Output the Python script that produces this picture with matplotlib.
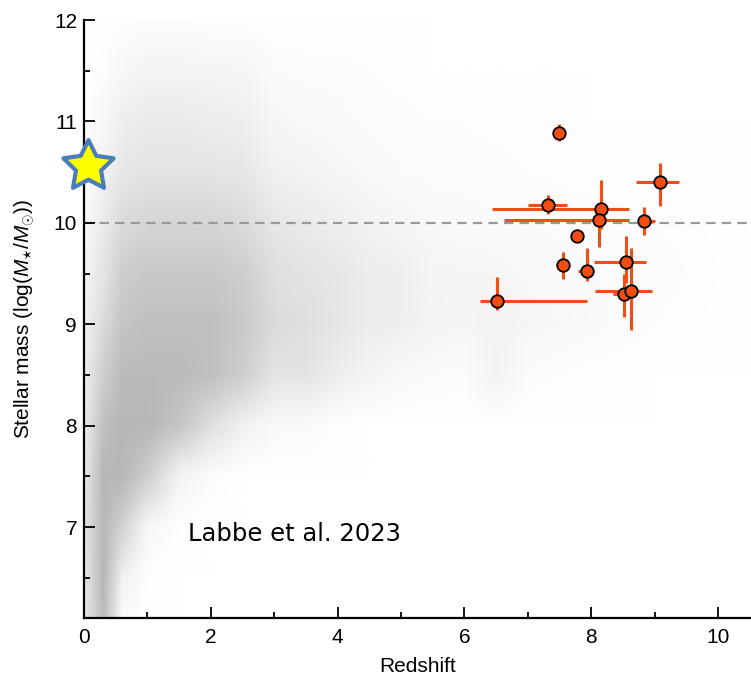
import numpy as np
import matplotlib
matplotlib.use("Agg")
import matplotlib.pyplot as plt
from matplotlib.colors import LinearSegmentedColormap
from matplotlib.ticker import MultipleLocator
from matplotlib.image import NonUniformImage
from matplotlib.path import Path

plt.rcParams['font.family'] = ['Liberation Sans', 'DejaVu Sans']
plt.rcParams['mathtext.fontset'] = 'custom'
plt.rcParams['mathtext.rm'] = 'Liberation Sans'
plt.rcParams['mathtext.it'] = 'Liberation Sans:italic'

# JWST candidates (redshift, log stellar mass) with asymmetric errors
z = [7.49, 9.08, 7.32, 8.15, 8.12, 8.84, 7.78, 7.55, 7.94, 8.55, 8.52, 8.63, 6.52]
logm = [10.89, 10.40, 10.18, 10.14, 10.03, 10.02, 9.87, 9.58, 9.52, 9.61, 9.30, 9.33, 9.23]
z_lo = [0.02, 0.37, 0.32, 1.72, 1.49, 0.08, 0.0, 0.10, 0.15, 0.51, 0.17, 0.57, 0.28]
z_hi = [0.02, 0.31, 0.30, 0.45, 0.48, 0.17, 0.0, 0.10, 0.0, 0.32, 0.0, 0.33, 1.41]
m_lo = [0.08, 0.23, 0.09, 0.20, 0.27, 0.14, 0.03, 0.13, 0.09, 0.20, 0.23, 0.39, 0.09]
m_hi = [0.08, 0.19, 0.09, 0.28, 0.15, 0.14, 0.07, 0.13, 0.23, 0.26, 0.20, 0.42, 0.24]

# background galaxy cloud, read as a rough density (0 = empty, 10 = densest)
cloud_z = [0, 0.3, 0.6, 1.0, 1.5, 2.0, 2.5, 3.0, 3.5, 4.0, 4.5, 5.0, 5.5, 6.0, 6.5, 7.0, 8.0, 9.0, 10.5]
cloud_m = [6.1, 6.5, 7.0, 7.5, 8.0, 8.5, 9.0, 9.5, 10.0, 10.5, 11.0, 11.5, 12.0]
cloud_density = [
    [2.5, 7.5, 0.3, 0.0, 0.0, 0.0, 0.0, 0.0, 0.0, 0.0, 0.0, 0.0, 0.0, 0.0, 0.0, 0.0, 0.0, 0.0, 0.0],
    [2.5, 8.0, 1.5, 0.1, 0.0, 0.0, 0.0, 0.0, 0.0, 0.0, 0.0, 0.0, 0.0, 0.0, 0.0, 0.0, 0.0, 0.0, 0.0],
    [3.0, 8.0, 5.0, 0.8, 0.1, 0.0, 0.0, 0.0, 0.0, 0.0, 0.0, 0.0, 0.0, 0.0, 0.0, 0.0, 0.0, 0.0, 0.0],
    [2.5, 8.0, 8.0, 5.5, 1.2, 0.3, 0.0, 0.0, 0.0, 0.0, 0.0, 0.0, 0.0, 0.0, 0.0, 0.0, 0.0, 0.0, 0.0],
    [2.0, 7.0, 8.0, 8.0, 6.5, 3.5, 1.5, 0.5, 0.5, 0.1, 0.0, 0.0, 0.0, 0.0, 0.0, 0.0, 0.0, 0.0, 0.0],
    [1.8, 5.5, 7.5, 7.5, 7.5, 7.0, 5.5, 3.0, 3.0, 1.8, 1.2, 0.7, 0.4, 0.3, 1.3, 0.3, 0.1, 0.0, 0.0],
    [1.4, 4.0, 6.5, 7.0, 7.0, 7.0, 6.0, 4.0, 3.5, 2.7, 2.0, 1.7, 1.2, 0.9, 1.3, 0.9, 0.5, 0.2, 0.0],
    [1.0, 3.0, 5.5, 6.0, 6.0, 6.0, 5.5, 3.5, 3.0, 2.6, 2.0, 1.7, 1.1, 0.9, 0.9, 0.7, 0.4, 0.3, 0.0],
    [0.6, 2.2, 4.0, 4.5, 4.5, 4.5, 4.0, 2.6, 2.2, 1.7, 1.3, 1.0, 0.7, 0.5, 0.4, 0.4, 0.3, 0.2, 0.0],
    [0.3, 1.3, 2.6, 3.0, 3.0, 2.9, 2.6, 1.6, 1.3, 0.9, 0.6, 0.4, 0.3, 0.3, 0.3, 0.2, 0.1, 0.1, 0.0],
    [0.1, 0.8, 1.9, 2.2, 2.2, 2.0, 1.7, 0.9, 0.7, 0.5, 0.3, 0.3, 0.2, 0.2, 0.1, 0.1, 0.0, 0.0, 0.0],
    [0.0, 0.2, 0.8, 1.2, 1.2, 1.1, 1.0, 0.4, 0.3, 0.3, 0.2, 0.1, 0.0, 0.0, 0.0, 0.0, 0.0, 0.0, 0.0],
    [0.0, 0.0, 0.1, 0.2, 0.2, 0.1, 0.1, 0.0, 0.0, 0.0, 0.0, 0.0, 0.0, 0.0, 0.0, 0.0, 0.0, 0.0, 0.0],
]

milky_way = (0.06, 10.56)
threshold = 10.0
red = '#f24d12'

# five-pointed star with a slightly fat body, like the reference marker
ang = np.pi / 2 + np.arange(10) * np.pi / 5
rad = np.where(np.arange(10) % 2 == 0, 1.0, 0.5)
star_verts = np.column_stack([rad * np.cos(ang), rad * np.sin(ang)])
star = Path(np.vstack([star_verts, star_verts[:1]]), closed=True)

fig = plt.figure(figsize=(7.51, 6.76), dpi=100)
ax = fig.add_axes([0.1119, 0.0854, 0.8881, 0.885])

greys = LinearSegmentedColormap.from_list('cloud', ['#ffffff', '#a6a6a6'])
im = NonUniformImage(ax, interpolation='bilinear', extent=(0, 10.5, 6.1, 12),
                     cmap=greys, zorder=0)
im.set_data(cloud_z, cloud_m, np.array(cloud_density))
im.set_clim(0, 10)
ax.add_image(im)

ax.axhline(threshold, color='#999999', lw=1.6, ls=(0, (4.2, 2.8)), zorder=1)

ax.errorbar(z, logm, xerr=[z_lo, z_hi], yerr=[m_lo, m_hi], fmt='o',
            color=red, ecolor=red, elinewidth=2.2, capsize=0,
            markersize=9, markeredgecolor='black', markeredgewidth=1.3, zorder=3)

ax.plot(*milky_way, marker=star, markersize=38, markerfacecolor='#ffff00',
        markeredgecolor='#4a7ebb', markeredgewidth=3, clip_on=False, zorder=5)

ax.text(1.64, 6.93, 'Labbe et al. 2023', fontsize=17.5, family='DejaVu Sans',
        ha='left', va='center')

ax.set_xlim(0, 10.52)
ax.set_ylim(6.1, 12)
ax.xaxis.set_major_locator(MultipleLocator(2))
ax.xaxis.set_minor_locator(MultipleLocator(1))
ax.yaxis.set_minor_locator(MultipleLocator(0.5))
ax.set_yticks([7, 8, 9, 10, 11, 12])
ax.tick_params(which='both', direction='in', width=1.3, labelsize=15)
ax.tick_params(which='major', length=8)
ax.tick_params(which='minor', length=4)
ax.tick_params(axis='x', pad=7)
ax.tick_params(axis='y', pad=5)

for side in ['top', 'right']:
    ax.spines[side].set_visible(False)
for side in ['left', 'bottom']:
    ax.spines[side].set_linewidth(1.6)

ax.set_xlabel('Redshift', fontsize=15, labelpad=7)
ax.set_ylabel(r'Stellar mass (log($M_{\star}/M_{\odot}$))', fontsize=15, labelpad=12)

fig.savefig('out.png', dpi=100)
